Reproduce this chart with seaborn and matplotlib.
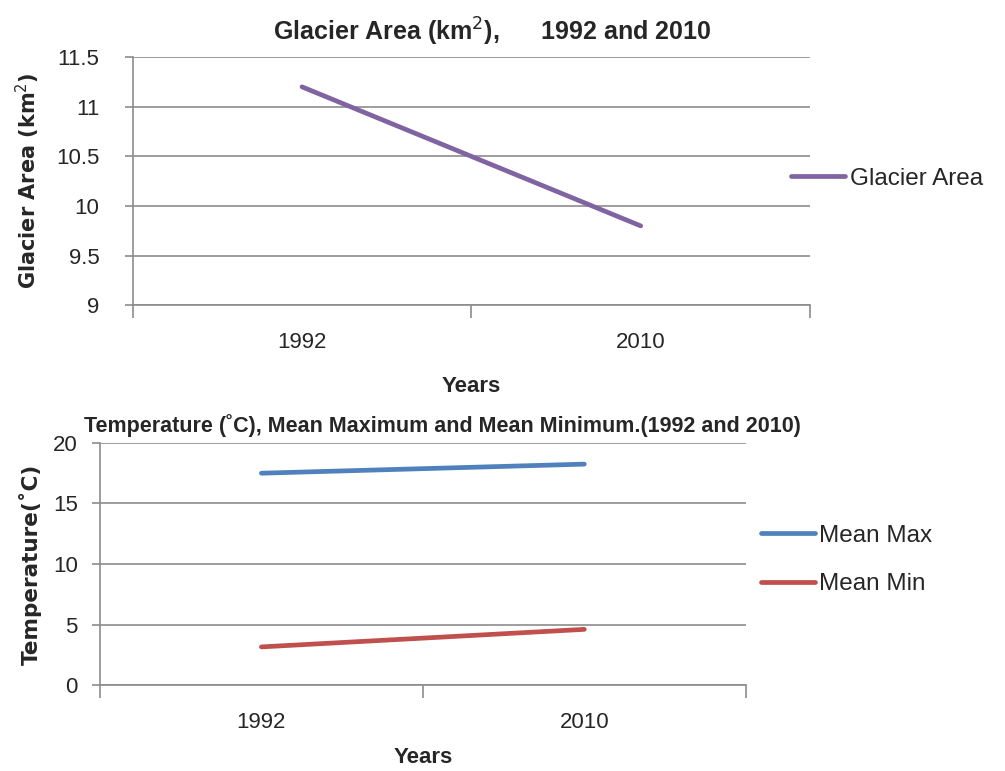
import pandas as pd
import matplotlib
matplotlib.use("Agg")
import matplotlib.pyplot as plt
import seaborn as sns

# values
years = ["1992", "2010"]
glacier_area = [11.2, 9.8]
mean_max = [17.5, 18.25]
mean_min = [3.15, 4.6]

sns.set_style("white")
plt.rcParams['font.family'] = ['Liberation Sans', 'DejaVu Sans']

GRID = "#8c8c8c"


def style_axes(ax, ypad):
    ax.set_xlim(-0.5, 1.5)
    ax.set_xticks([0, 1])
    ax.set_xticklabels(years)
    ax.set_xticks([-0.5, 0.5, 1.5], minor=True)
    ax.tick_params(axis='x', which='major', bottom=False, pad=16, labelsize=16)
    ax.tick_params(axis='x', which='minor', bottom=True, length=9, width=1.2,
                   color=GRID, direction='out')
    ax.tick_params(axis='y', left=True, length=6, width=1.2, color=GRID,
                   direction='out', labelsize=16, pad=ypad)
    ax.grid(axis='y', color=GRID, linewidth=1.2)
    ax.grid(axis='x', visible=False)
    for s in ['top', 'right']:
        ax.spines[s].set_visible(False)
    for s in ['left', 'bottom']:
        ax.spines[s].set_color(GRID)
        ax.spines[s].set_linewidth(1.2)


fig = plt.figure(figsize=(10.05, 7.71), dpi=100)

# top panel: glacier area
ax1 = fig.add_axes([0.132, 0.604, 0.674, 0.322])
df1 = pd.DataFrame({"Year": years, "Area": glacier_area, "Series": "Glacier Area"})
sns.lineplot(data=df1, x="Year", y="Area", hue="Series", palette=["#8064A2"],
             linewidth=3.4, solid_capstyle='round', ax=ax1)
ax1.set_ylim(9, 11.5)
ax1.set_yticks([9, 9.5, 10, 10.5, 11, 11.5])
ax1.set_yticklabels(["9", "9.5", "10", "10.5", "11", "11.5"])
style_axes(ax1, 18)
ax1.set_xlabel("Years", fontsize=16, fontweight='bold', labelpad=16)
ax1.set_ylabel("Glacier Area (km$^2$)", fontsize=15, fontweight='bold',
               family='DejaVu Sans', labelpad=10)
ax1.set_title("Glacier Area (km$^2$),      1992 and 2010", fontsize=18,
              fontweight='bold', x=0.53, pad=12)
ax1.legend(loc='center left', bbox_to_anchor=(0.94, 0.51), frameon=False,
           fontsize=17.5, handlelength=2.2, handletextpad=0.2)

# bottom panel: temperature
ax2 = fig.add_axes([0.0995, 0.1115, 0.6425, 0.314])
df2 = pd.DataFrame({
    "Year": years * 2,
    "Temp": mean_max + mean_min,
    "Series": ["Mean Max"] * 2 + ["Mean Min"] * 2,
})
sns.lineplot(data=df2, x="Year", y="Temp", hue="Series",
             palette=["#4F81BD", "#C0504D"], linewidth=3.4,
             solid_capstyle='round', ax=ax2)
ax2.set_ylim(0, 20)
ax2.set_yticks([0, 5, 10, 15, 20])
style_axes(ax2, 10)
ax2.set_xlabel("Years", fontsize=16, fontweight='bold', labelpad=10)
ax2.set_ylabel("Temperature(˚C)", fontsize=15.5, fontweight='bold',
               family='DejaVu Sans', labelpad=8)
ax2.set_title("Temperature (˚C), Mean Maximum and Mean Minimum.(1992 and 2010)",
              fontsize=15.5, fontweight='bold', x=0.53, pad=8)
ax2.legend(loc='center left', bbox_to_anchor=(0.99, 0.517), frameon=False,
           fontsize=17.5, handlelength=2.2, handletextpad=0.2, labelspacing=1.1)

fig.savefig("out.png", dpi=100)
